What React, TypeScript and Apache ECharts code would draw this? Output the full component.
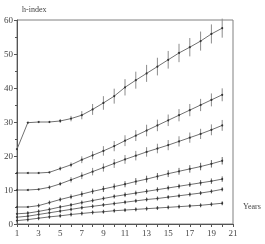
import React, { useEffect, useRef } from "react";
import * as echarts from "echarts";

const years = [1, 2, 3, 4, 5, 6, 7, 8, 9, 10, 11, 12, 13, 14, 15, 16, 17, 18, 19, 20];

const s1 = [22, 29.8, 30, 30, 30.3, 31, 32, 33.7, 35.6, 37.6, 40.2, 42.3, 44.3, 46.3, 48.3, 50.3, 52, 53.8, 55.9, 57.6];
const s2 = [15, 15, 15, 15.2, 16.3, 17.4, 18.9, 20.2, 21.5, 22.9, 24.5, 26, 27.5, 29, 30.5, 32, 33.5, 35, 36.5, 38];
const s3 = [10, 10, 10.2, 10.8, 11.8, 13, 14.2, 15.4, 16.6, 17.8, 19, 20.1, 21.2, 22.2, 23.2, 24.3, 25.4, 26.5, 27.7, 29];
const s4 = [5, 5, 5.4, 6.3, 7.2, 8, 8.8, 9.6, 10.3, 11, 11.7, 12.5, 13.2, 14, 14.8, 15.5, 16.2, 16.9, 17.7, 18.6];
const s5 = [3, 3.2, 3.7, 4.3, 5, 5.6, 6.3, 6.9, 7.5, 8.1, 8.6, 9.1, 9.6, 10.1, 10.6, 11.1, 11.6, 12.1, 12.6, 13.2];
const s6 = [2, 2.3, 2.8, 3.3, 3.8, 4.3, 4.8, 5.2, 5.6, 6, 6.4, 6.8, 7.2, 7.5, 7.9, 8.3, 8.7, 9.1, 9.6, 10.2];
const s7 = [1, 1.3, 1.7, 2.1, 2.4, 2.8, 3.1, 3.4, 3.6, 3.9, 4.1, 4.3, 4.5, 4.7, 4.9, 5.1, 5.3, 5.5, 5.8, 6.1];

const e1 = [0, 0, 0, 0, 0.4, 0.8, 1.2, 1.6, 2, 2.2, 2.4, 2.5, 2.5, 2.6, 2.6, 2.7, 2.7, 2.8, 2.8, 2.8];
const e2 = [0, 0, 0, 0, 0.4, 0.7, 1, 1.2, 1.4, 1.5, 1.6, 1.6, 1.7, 1.7, 1.7, 1.8, 1.8, 1.8, 1.9, 1.9];
const e3 = [0, 0, 0, 0.3, 0.5, 0.8, 1, 1.1, 1.2, 1.3, 1.3, 1.4, 1.4, 1.4, 1.5, 1.5, 1.5, 1.5, 1.6, 1.6];
const e4 = [0, 0, 0.3, 0.5, 0.6, 0.7, 0.8, 0.8, 0.9, 0.9, 0.9, 1, 1, 1, 1, 1, 1.1, 1.1, 1.1, 1.1];
const e5 = [0, 0.2, 0.3, 0.4, 0.5, 0.5, 0.6, 0.6, 0.6, 0.6, 0.7, 0.7, 0.7, 0.7, 0.7, 0.7, 0.7, 0.8, 0.8, 0.8];
const e6 = [0, 0.2, 0.3, 0.3, 0.4, 0.4, 0.4, 0.5, 0.5, 0.5, 0.5, 0.5, 0.5, 0.6, 0.6, 0.6, 0.6, 0.6, 0.6, 0.6];
const e7 = [0, 0.1, 0.2, 0.2, 0.3, 0.3, 0.3, 0.3, 0.3, 0.3, 0.3, 0.4, 0.4, 0.4, 0.4, 0.4, 0.4, 0.4, 0.4, 0.4];

const seriesValues = [s1, s2, s3, s4, s5, s6, s7];
const seriesErrors = [e1, e2, e3, e4, e5, e6, e7];

const yAxisName = "h-index";
const xAxisName = "Years";

const FONT = "Liberation Serif";

export default function App() {
  const ref = useRef<HTMLDivElement>(null);

  useEffect(() => {
    if (!ref.current) return;
    const chart = echarts.init(ref.current, null, { renderer: "svg" });

    const series: any[] = [];
    seriesValues.forEach((vals, si) => {
      series.push({
        type: "line",
        data: years.map((x, i) => [x, vals[i]]),
        symbol: "circle",
        symbolSize: 2,
        itemStyle: { color: "#333" },
        lineStyle: { color: "#707070", width: 1 },
        z: 3,
      });
      const errs = seriesErrors[si];
      series.push({
        type: "custom",
        data: years
          .map((x, i) => [x, vals[i] - errs[i], vals[i] + errs[i], errs[i]])
          .filter((d) => d[3] > 0),
        renderItem: (params: any, api: any) => {
          const x = api.value(0);
          const lo = api.coord([x, api.value(1)]);
          const hi = api.coord([x, api.value(2)]);
          let y1 = lo[1];
          let y2 = hi[1];
          const mid = (y1 + y2) / 2;
          if (y1 - y2 < 4) {
            y1 = mid + 2;
            y2 = mid - 2;
          }
          return {
            type: "line",
            shape: { x1: lo[0], y1, x2: hi[0], y2 },
            style: { stroke: si < 3 ? "#8c8c8c" : "#666", lineWidth: 1 },
          };
        },
        z: 2,
      });
    });

    chart.setOption({
      animation: false,
      grid: { left: 17, top: 20, right: 32, bottom: 20, show: true, borderColor: "#808080", borderWidth: 1 },
      xAxis: {
        type: "value",
        min: 1,
        max: 21,
        interval: 1,
        axisLine: { show: true, lineStyle: { color: "#555" } },
        axisTick: { show: true, length: 3, lineStyle: { color: "#555" } },
        splitLine: { show: false },
        axisLabel: {
          fontFamily: FONT,
          fontSize: 9,
          color: "#444",
          margin: 4,
          formatter: (v: number) => (v % 2 === 1 ? String(v) : ""),
        },
      },
      yAxis: {
        type: "value",
        min: 0,
        max: 60,
        interval: 10,
        name: yAxisName,
        nameLocation: "end",
        nameGap: 7,
        nameTextStyle: { fontFamily: FONT, fontSize: 8, color: "#444", align: "left", padding: [0, 0, 0, 5] },
        axisLine: { show: true, lineStyle: { color: "#555" } },
        axisTick: { show: true, length: 3, lineStyle: { color: "#555" } },
        minorTick: { show: true, splitNumber: 2, length: 2, lineStyle: { color: "#555" } },
        splitLine: { show: false },
        axisLabel: { fontFamily: FONT, fontSize: 9, color: "#444", margin: 4 },
      },
      graphic: [
        {
          type: "text",
          left: 243,
          top: 202,
          style: { text: xAxisName, fontFamily: FONT, fontSize: 8, fill: "#444" },
        },
      ],
      series,
    });

    return () => chart.dispose();
  }, []);

  return <div ref={ref} style={{ position: "fixed", left: 0, top: 0, width: 265, height: 244 }} />;
}
